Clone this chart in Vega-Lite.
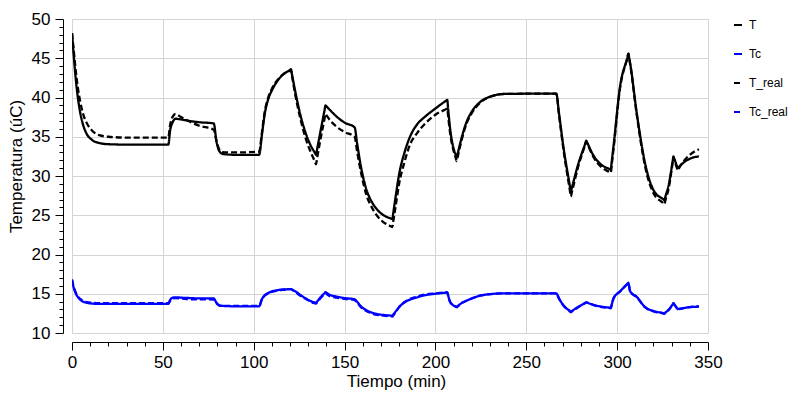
{
  "$schema": "https://vega.github.io/schema/vega-lite/v6.json",
  "width": 636,
  "height": 314,
  "autosize": {"type": "none"},
  "padding": {"left": 72, "top": 19, "right": 81, "bottom": 61},
  "background": "white",
  "config": {
    "font": "Liberation Sans",
    "view": {"stroke": null},
    "axis": {
      "labelFont": "Liberation Sans", "titleFont": "Liberation Sans",
      "labelColor": "#000", "titleColor": "#000", "labelFontSize": 17, "titleFontSize": 17,
      "titleFontWeight": "normal", "domainColor": "#000", "tickColor": "#000",
      "gridColor": "#d4d4d4", "gridWidth": 1, "labelOverlap": false, "labelFlush": false
    }
  },
  "data": {
    "values": [
      {"t": 0, "T": 48.2, "Tc": 16.8, "T_real": 48.2, "Tc_real": 16.8},
      {"t": 0.8, "T": 45.8, "Tc": 15.9, "T_real": 46.4, "Tc_real": 16.0},
      {"t": 1.8, "T": 43.0, "Tc": 15.2, "T_real": 44.0, "Tc_real": 15.3},
      {"t": 3, "T": 40.4, "Tc": 14.65, "T_real": 41.6, "Tc_real": 14.75},
      {"t": 4.5, "T": 38.1, "Tc": 14.25, "T_real": 39.5, "Tc_real": 14.35},
      {"t": 6, "T": 36.6, "Tc": 14.0, "T_real": 38.0, "Tc_real": 14.1},
      {"t": 8, "T": 35.4, "Tc": 13.85, "T_real": 36.8, "Tc_real": 13.95},
      {"t": 11, "T": 34.6, "Tc": 13.75, "T_real": 35.8, "Tc_real": 13.85},
      {"t": 15, "T": 34.2, "Tc": 13.7, "T_real": 35.2, "Tc_real": 13.8},
      {"t": 20, "T": 34.05, "Tc": 13.7, "T_real": 35.0, "Tc_real": 13.8},
      {"t": 30, "T": 34.0, "Tc": 13.7, "T_real": 34.9, "Tc_real": 13.8},
      {"t": 53, "T": 34.0, "Tc": 13.7, "T_real": 34.9, "Tc_real": 13.8},
      {"t": 54, "T": 35.8, "Tc": 14.2, "T_real": 36.5, "Tc_real": 14.1},
      {"t": 55.5, "T": 36.9, "Tc": 14.5, "T_real": 37.6, "Tc_real": 14.4},
      {"t": 57, "T": 37.3, "Tc": 14.55, "T_real": 37.9, "Tc_real": 14.45},
      {"t": 60, "T": 37.2, "Tc": 14.5, "T_real": 37.5, "Tc_real": 14.4},
      {"t": 65, "T": 37.0, "Tc": 14.45, "T_real": 36.9, "Tc_real": 14.3},
      {"t": 70, "T": 36.85, "Tc": 14.4, "T_real": 36.4, "Tc_real": 14.3},
      {"t": 78, "T": 36.7, "Tc": 14.4, "T_real": 35.9, "Tc_real": 14.25},
      {"t": 79.5, "T": 34.4, "Tc": 13.85, "T_real": 34.5, "Tc_real": 13.8},
      {"t": 81, "T": 33.2, "Tc": 13.55, "T_real": 33.4, "Tc_real": 13.5},
      {"t": 83, "T": 32.8, "Tc": 13.45, "T_real": 33.05, "Tc_real": 13.45},
      {"t": 90, "T": 32.7, "Tc": 13.4, "T_real": 33.0, "Tc_real": 13.45},
      {"t": 103, "T": 32.7, "Tc": 13.4, "T_real": 33.1, "Tc_real": 13.45},
      {"t": 104.5, "T": 35.2, "Tc": 14.3, "T_real": 35.5, "Tc_real": 14.3},
      {"t": 106, "T": 37.8, "Tc": 14.8, "T_real": 38.1, "Tc_real": 14.75},
      {"t": 108, "T": 39.8, "Tc": 15.1, "T_real": 40.0, "Tc_real": 15.05},
      {"t": 110, "T": 40.9, "Tc": 15.3, "T_real": 41.1, "Tc_real": 15.25},
      {"t": 113, "T": 42.1, "Tc": 15.45, "T_real": 42.2, "Tc_real": 15.4},
      {"t": 116, "T": 42.9, "Tc": 15.55, "T_real": 42.9, "Tc_real": 15.5},
      {"t": 120, "T": 43.52, "Tc": 15.59, "T_real": 43.43, "Tc_real": 15.59},
      {"t": 120.5, "T": 43.6, "Tc": 15.6, "T_real": 43.5, "Tc_real": 15.6},
      {"t": 121, "T": 43.0, "Tc": 15.54, "T_real": 42.84, "Tc_real": 15.52},
      {"t": 123, "T": 40.6, "Tc": 15.3, "T_real": 40.2, "Tc_real": 15.2},
      {"t": 126, "T": 37.5, "Tc": 14.8, "T_real": 37.0, "Tc_real": 14.7},
      {"t": 129, "T": 35.2, "Tc": 14.35, "T_real": 34.5, "Tc_real": 14.3},
      {"t": 132, "T": 33.6, "Tc": 14.0, "T_real": 32.7, "Tc_real": 13.9},
      {"t": 133.8, "T": 32.9, "Tc": 13.88, "T_real": 31.76, "Tc_real": 13.78},
      {"t": 134.3, "T": 32.7, "Tc": 13.85, "T_real": 31.5, "Tc_real": 13.75},
      {"t": 134.8, "T": 33.31, "Tc": 13.99, "T_real": 32.15, "Tc_real": 13.89},
      {"t": 137, "T": 36.0, "Tc": 14.6, "T_real": 35.0, "Tc_real": 14.5},
      {"t": 139, "T": 38.4, "Tc": 15.08, "T_real": 37.32, "Tc_real": 14.94},
      {"t": 139.5, "T": 39.0, "Tc": 15.2, "T_real": 37.9, "Tc_real": 15.05},
      {"t": 140, "T": 38.88, "Tc": 15.13, "T_real": 37.74, "Tc_real": 14.98},
      {"t": 142, "T": 38.4, "Tc": 14.85, "T_real": 37.1, "Tc_real": 14.7},
      {"t": 145.5, "T": 37.6, "Tc": 14.65, "T_real": 36.3, "Tc_real": 14.5},
      {"t": 150, "T": 36.8, "Tc": 14.45, "T_real": 35.6, "Tc_real": 14.35},
      {"t": 155.5, "T": 36.2, "Tc": 14.3, "T_real": 35.0, "Tc_real": 14.2},
      {"t": 157, "T": 34.0, "Tc": 13.95, "T_real": 33.0, "Tc_real": 13.85},
      {"t": 159, "T": 31.2, "Tc": 13.4, "T_real": 30.5, "Tc_real": 13.3},
      {"t": 162, "T": 28.3, "Tc": 12.9, "T_real": 27.6, "Tc_real": 12.8},
      {"t": 165, "T": 26.7, "Tc": 12.6, "T_real": 26.0, "Tc_real": 12.5},
      {"t": 168, "T": 25.7, "Tc": 12.4, "T_real": 24.9, "Tc_real": 12.3},
      {"t": 171.5, "T": 25.0, "Tc": 12.3, "T_real": 24.1, "Tc_real": 12.2},
      {"t": 175.8, "T": 24.55, "Tc": 12.21, "T_real": 23.56, "Tc_real": 12.11},
      {"t": 176.3, "T": 24.5, "Tc": 12.2, "T_real": 23.5, "Tc_real": 12.1},
      {"t": 176.8, "T": 25.29, "Tc": 12.35, "T_real": 24.24, "Tc_real": 12.25},
      {"t": 178, "T": 27.2, "Tc": 12.7, "T_real": 26.0, "Tc_real": 12.6},
      {"t": 180, "T": 30.2, "Tc": 13.3, "T_real": 29.0, "Tc_real": 13.3},
      {"t": 183, "T": 33.0, "Tc": 13.9, "T_real": 31.8, "Tc_real": 13.95},
      {"t": 186, "T": 35.0, "Tc": 14.25, "T_real": 34.0, "Tc_real": 14.35},
      {"t": 190, "T": 36.6, "Tc": 14.55, "T_real": 35.5, "Tc_real": 14.65},
      {"t": 194, "T": 37.5, "Tc": 14.8, "T_real": 36.6, "Tc_real": 14.9},
      {"t": 200, "T": 38.6, "Tc": 15.0, "T_real": 37.8, "Tc_real": 15.05},
      {"t": 206, "T": 39.62, "Tc": 15.14, "T_real": 38.54, "Tc_real": 15.19},
      {"t": 206.5, "T": 39.7, "Tc": 15.15, "T_real": 38.6, "Tc_real": 15.2},
      {"t": 207, "T": 38.53, "Tc": 14.77, "T_real": 37.6, "Tc_real": 14.8},
      {"t": 208, "T": 36.2, "Tc": 14.0, "T_real": 35.6, "Tc_real": 14.0},
      {"t": 210, "T": 33.5, "Tc": 13.5, "T_real": 33.2, "Tc_real": 13.5},
      {"t": 211.2, "T": 32.65, "Tc": 13.36, "T_real": 32.28, "Tc_real": 13.36},
      {"t": 211.7, "T": 32.3, "Tc": 13.3, "T_real": 31.9, "Tc_real": 13.3},
      {"t": 212.2, "T": 32.78, "Tc": 13.4, "T_real": 32.4, "Tc_real": 13.4},
      {"t": 214, "T": 34.5, "Tc": 13.75, "T_real": 34.2, "Tc_real": 13.75},
      {"t": 217, "T": 36.8, "Tc": 14.1, "T_real": 36.6, "Tc_real": 14.1},
      {"t": 220, "T": 38.2, "Tc": 14.4, "T_real": 38.0, "Tc_real": 14.4},
      {"t": 224.5, "T": 39.4, "Tc": 14.75, "T_real": 39.3, "Tc_real": 14.75},
      {"t": 230, "T": 40.1, "Tc": 14.95, "T_real": 40.1, "Tc_real": 14.95},
      {"t": 238, "T": 40.45, "Tc": 15.05, "T_real": 40.45, "Tc_real": 15.05},
      {"t": 266.5, "T": 40.5, "Tc": 15.05, "T_real": 40.5, "Tc_real": 15.05},
      {"t": 268, "T": 38.0, "Tc": 14.4, "T_real": 37.8, "Tc_real": 14.4},
      {"t": 270.5, "T": 33.6, "Tc": 13.5, "T_real": 33.3, "Tc_real": 13.5},
      {"t": 274, "T": 28.7, "Tc": 12.8, "T_real": 28.14, "Tc_real": 12.76},
      {"t": 274.5, "T": 28.0, "Tc": 12.7, "T_real": 27.4, "Tc_real": 12.65},
      {"t": 275, "T": 28.43, "Tc": 12.78, "T_real": 27.86, "Tc_real": 12.73},
      {"t": 278.7, "T": 31.6, "Tc": 13.35, "T_real": 31.3, "Tc_real": 13.3},
      {"t": 282.5, "T": 34.16, "Tc": 13.84, "T_real": 34.04, "Tc_real": 13.83},
      {"t": 283, "T": 34.5, "Tc": 13.9, "T_real": 34.4, "Tc_real": 13.9},
      {"t": 283.5, "T": 34.26, "Tc": 13.86, "T_real": 34.15, "Tc_real": 13.86},
      {"t": 287, "T": 32.6, "Tc": 13.6, "T_real": 32.4, "Tc_real": 13.55},
      {"t": 291.5, "T": 31.4, "Tc": 13.35, "T_real": 31.1, "Tc_real": 13.3},
      {"t": 296, "T": 30.86, "Tc": 13.22, "T_real": 30.47, "Tc_real": 13.17},
      {"t": 296.5, "T": 30.8, "Tc": 13.2, "T_real": 30.4, "Tc_real": 13.15},
      {"t": 297, "T": 31.8, "Tc": 13.6, "T_real": 31.4, "Tc_real": 13.57},
      {"t": 298, "T": 33.8, "Tc": 14.4, "T_real": 33.4, "Tc_real": 14.4},
      {"t": 301.6, "T": 41.4, "Tc": 15.3, "T_real": 41.2, "Tc_real": 15.3},
      {"t": 305.7, "T": 45.14, "Tc": 16.28, "T_real": 45.12, "Tc_real": 16.28},
      {"t": 306.2, "T": 45.6, "Tc": 16.4, "T_real": 45.6, "Tc_real": 16.4},
      {"t": 306.5, "T": 45.21, "Tc": 16.07, "T_real": 45.18, "Tc_real": 16.07},
      {"t": 307.2, "T": 44.3, "Tc": 15.3, "T_real": 44.2, "Tc_real": 15.3},
      {"t": 310.8, "T": 38.0, "Tc": 14.6, "T_real": 37.8, "Tc_real": 14.55},
      {"t": 315.4, "T": 31.6, "Tc": 13.3, "T_real": 31.2, "Tc_real": 13.25},
      {"t": 320, "T": 28.2, "Tc": 12.8, "T_real": 27.8, "Tc_real": 12.75},
      {"t": 325.5, "T": 27.0, "Tc": 12.53, "T_real": 26.52, "Tc_real": 12.48},
      {"t": 326, "T": 26.9, "Tc": 12.5, "T_real": 26.4, "Tc_real": 12.45},
      {"t": 326.5, "T": 27.32, "Tc": 12.6, "T_real": 26.84, "Tc_real": 12.55},
      {"t": 328.5, "T": 29.0, "Tc": 13.0, "T_real": 28.6, "Tc_real": 12.95},
      {"t": 330.6, "T": 31.94, "Tc": 13.67, "T_real": 31.79, "Tc_real": 13.66},
      {"t": 331, "T": 32.5, "Tc": 13.8, "T_real": 32.4, "Tc_real": 13.8},
      {"t": 331.4, "T": 32.24, "Tc": 13.67, "T_real": 32.1, "Tc_real": 13.66},
      {"t": 332.9, "T": 31.26, "Tc": 13.18, "T_real": 31.0, "Tc_real": 13.14},
      {"t": 333.3, "T": 31.0, "Tc": 13.05, "T_real": 30.7, "Tc_real": 13.0},
      {"t": 333.8, "T": 31.11, "Tc": 13.07, "T_real": 30.89, "Tc_real": 13.03},
      {"t": 336, "T": 31.6, "Tc": 13.15, "T_real": 31.7, "Tc_real": 13.15},
      {"t": 340, "T": 32.2, "Tc": 13.3, "T_real": 32.7, "Tc_real": 13.3},
      {"t": 345, "T": 32.5, "Tc": 13.35, "T_real": 33.4, "Tc_real": 13.4}
    ]
  },
  "transform": [
    {"fold": ["T", "Tc", "T_real", "Tc_real"], "as": ["serie", "valor"]}
  ],
  "mark": {"type": "line", "strokeWidth": 2.3, "clip": true, "interpolate": "monotone"},
  "encoding": {
    "x": {
      "field": "t", "type": "quantitative",
      "scale": {"domain": [0, 350], "nice": false, "zero": false},
      "axis": {
        "title": "Tiempo (min)",
        "values": [0,10,20,30,40,50,60,70,80,90,100,110,120,130,140,150,160,170,180,190,200,210,220,230,240,250,260,270,280,290,300,310,320,330,340,350],
        "labelExpr": "datum.value % 50 === 0 ? datum.label : ''",
        "tickSize": {"condition": {"test": "datum.value % 50 === 0", "value": 8}, "value": 4},
        "gridOpacity": {"condition": {"test": "datum.value % 50 === 0", "value": 1}, "value": 0},
        "offset": 9,
        "labelPadding": 4,
        "titlePadding": 3,
        "titleX": 324
      }
    },
    "y": {
      "field": "valor", "type": "quantitative",
      "scale": {"domain": [10, 50], "nice": false, "zero": false},
      "axis": {
        "title": "Temperatura (úC)",
        "values": [10,11,12,13,14,15,16,17,18,19,20,21,22,23,24,25,26,27,28,29,30,31,32,33,34,35,36,37,38,39,40,41,42,43,44,45,46,47,48,49,50],
        "labelExpr": "datum.value % 5 === 0 ? datum.label : ''",
        "tickSize": {"condition": {"test": "datum.value % 5 === 0", "value": 8}, "value": 4},
        "gridOpacity": {"condition": {"test": "datum.value % 5 === 0", "value": 1}, "value": 0},
        "offset": 9,
        "labelPadding": 5,
        "titlePadding": 6,
        "titleY": 147
      }
    },
    "color": {
      "field": "serie", "type": "nominal",
      "scale": {"domain": ["T", "Tc", "T_real", "Tc_real"], "range": ["#000000", "#0000ff", "#000000", "#0000ff"]},
      "legend": {
        "title": null,
        "orient": "none",
        "legendX": 660,
        "legendY": 0,
        "direction": "vertical",
        "symbolType": "stroke",
        "symbolSize": 64,
        "symbolStrokeWidth": 2,
        "labelFontSize": 12,
        "labelFont": "Liberation Sans",
        "labelColor": "#000",
        "labelOffset": 5,
        "rowPadding": 17,
        "padding": 0,
        "encode": {
          "symbols": {"update": {"strokeDash": {"signal": "indexof(datum.value, '_real') >= 0 ? [2, 2.5] : [1, 0]"}}}
        }
      }
    },
    "strokeDash": {
      "field": "serie", "type": "nominal",
      "scale": {"domain": ["T", "Tc", "T_real", "Tc_real"], "range": [[1, 0], [1, 0], [6, 3], [6, 3]]},
      "legend": null
    }
  }
}
